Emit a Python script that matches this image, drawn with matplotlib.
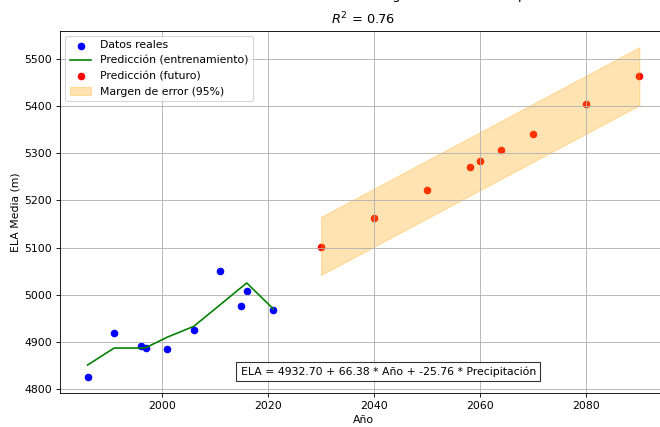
import matplotlib.pyplot as plt
import numpy as np

# Datos reales (años observados)
anios = np.array([1986, 1991, 1996, 1997, 2001, 2006, 2011, 2015, 2016, 2021])
ela_real = np.array([4826, 4920, 4892, 4887, 4885, 4925, 5050, 4977, 5009, 4968])

# Predicción del modelo sobre el periodo de entrenamiento
ela_entren = np.array([4851, 4887, 4887, 4888, 4910, 4933, 4979, 5016, 5025, 4970])

# Predicción a futuro
anios_fut = np.array([2030, 2040, 2050, 2058, 2060, 2064, 2070, 2080, 2090])
ela_fut = np.array([5102, 5163, 5223, 5271, 5283, 5307, 5342, 5405, 5464])
limite_inf = np.array([5042, 5102, 5162, 5210, 5222, 5246, 5282, 5342, 5402])
limite_sup = np.array([5165, 5225, 5285, 5333, 5345, 5369, 5405, 5465, 5525])

r2 = 0.76
titulo = 'Predicción de ELA Media con regresión lineal múltiple'
ecuacion = 'ELA = 4932.70 + 66.38 * Año + -25.76 * Precipitación'

dpi = 78
fig = plt.figure(figsize=(660 / dpi, 427 / dpi), dpi=dpi)
ax = fig.add_axes([0.0909, 0.0789, 0.9197, 0.8491])

ax.scatter(anios, ela_real, color='blue', label='Datos reales')
ax.plot(anios, ela_entren, color='green', label='Predicción (entrenamiento)')
ax.scatter(anios_fut, ela_fut, color='red', label='Predicción (futuro)')
ax.fill_between(anios_fut, limite_inf, limite_sup, color='orange', alpha=0.3,
                label='Margen de error (95%)')

ax.text(0.541, 0.06, ecuacion, transform=ax.transAxes, ha='center', va='center',
        fontsize=10, bbox=dict(facecolor='white', alpha=0.8))

ax.set_title(titulo + '\n$R^2$ = %.2f' % r2, linespacing=1.6)
ax.set_xlabel('Año')
ax.set_ylabel('ELA Media (m)')
ax.legend(loc='upper left')
ax.grid(True)

fig.savefig('out.png', dpi=dpi)
